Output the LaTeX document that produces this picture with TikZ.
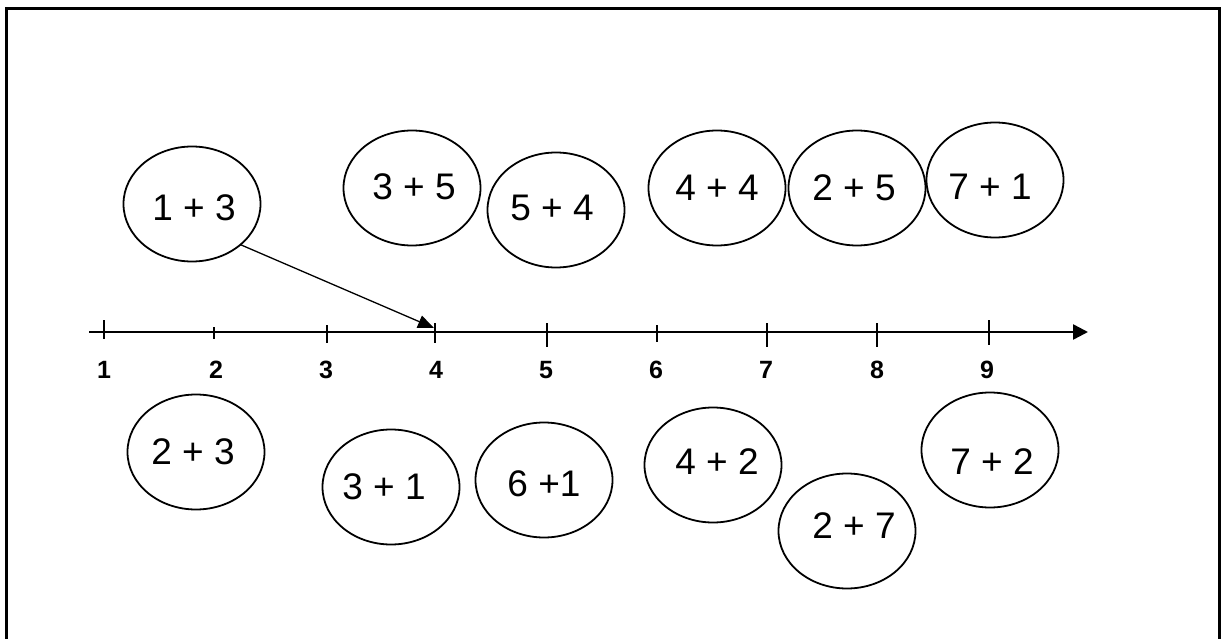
\documentclass[tikz,border=0pt]{standalone}
\usepackage{fontspec}
\setmainfont{Liberation Sans}
\usetikzlibrary{shapes.geometric,arrows.meta}
\begin{document}
\begin{tikzpicture}[x=1pt,y=-1pt,
  bubble/.style={ellipse,draw,line width=1.8pt,minimum width=137pt,minimum height=115pt,inner sep=0pt,outer sep=0pt},
  btxt/.style={font=\fontsize{37}{40}\selectfont,inner sep=0pt},
  axtick/.style={line width=1.8pt},
  numlab/.style={font=\fontsize{25}{28}\selectfont\bfseries,inner sep=0pt}]
\useasboundingbox (0,0) rectangle (1223,639);
% frame (open at the bottom)
\coordinate (fbl) at (6.5,670);
\coordinate (ftl) at (6.5,8.5);
\coordinate (ftr) at (1219.5,8.5);
\coordinate (fbr) at (1219.5,670);
\draw[line width=3pt] (fbl) -- (ftl) -- (ftr) -- (fbr);
% bubbles above the line
\node[bubble,label={[btxt,xshift=2pt,yshift=-4pt]center:1 + 3}] (a13) at (192,204) {};
\node[bubble,label={[btxt,xshift=2pt,yshift=1pt]center:3 + 5}] (a35) at (412,188) {};
\node[bubble,label={[btxt,xshift=-4pt,yshift=2pt]center:5 + 4}] (a54) at (556,210) {};
\node[bubble,label={[btxt]center:4 + 4}] (a44) at (717,188) {};
\node[bubble,label={[btxt,xshift=-3pt]center:2 + 5}] (a25) at (857,188) {};
\node[bubble,label={[btxt,xshift=-5pt,yshift=-7pt]center:7 + 1}] (a71) at (995,180) {};
% bubbles below the line
\node[bubble,label={[btxt,xshift=-3pt]center:2 + 3}] (b23) at (196,452) {};
\node[bubble,label={[btxt,xshift=-7pt]center:3 + 1}] (b31) at (391,487) {};
\node[bubble,label={[btxt,yshift=-4pt]center:6 +1}] (b61) at (544,480) {};
\node[bubble,label={[btxt,xshift=4pt,yshift=3pt]center:4 + 2}] (b42) at (713,465) {};
\node[bubble,label={[btxt,xshift=7pt,yshift=5pt]center:2 + 7}] (b27) at (847,531) {};
\node[bubble,label={[btxt,xshift=2pt,yshift=-12pt]center:7 + 2}] (b72) at (990,450) {};
% number line
\coordinate (ax0) at (89,332);
\coordinate (ax1) at (1088,332);
\draw[line width=2.4pt,-{Triangle[length=15pt,width=15pt]}] (ax0) -- (ax1);
\foreach \i/\x/\ya/\yb in {1/104/320/339, 2/214/327/339, 3/327/325/343, 4/435/323/343,
  5/547/323/347, 6/657/325/342, 7/767/323/347, 8/877/323/347, 9/989/320/345} {
  \coordinate (ta\i) at (\x,\ya);
  \coordinate (tb\i) at (\x,\yb);
  \draw[axtick] (ta\i) -- (tb\i);
}
\foreach \i/\x in {1/104, 2/216, 3/326, 4/436, 5/546, 6/656, 7/766, 8/877, 9/987} {
  \node[numlab] (n\i) at (\x,370) {\i};
}
% arrow from 1 + 3 to 4
\coordinate (t4) at (434,328);
\draw[line width=1.3pt,-{Triangle[length=16pt,width=13pt]}] (a13.-40) -- (t4);
\end{tikzpicture}
\end{document}
